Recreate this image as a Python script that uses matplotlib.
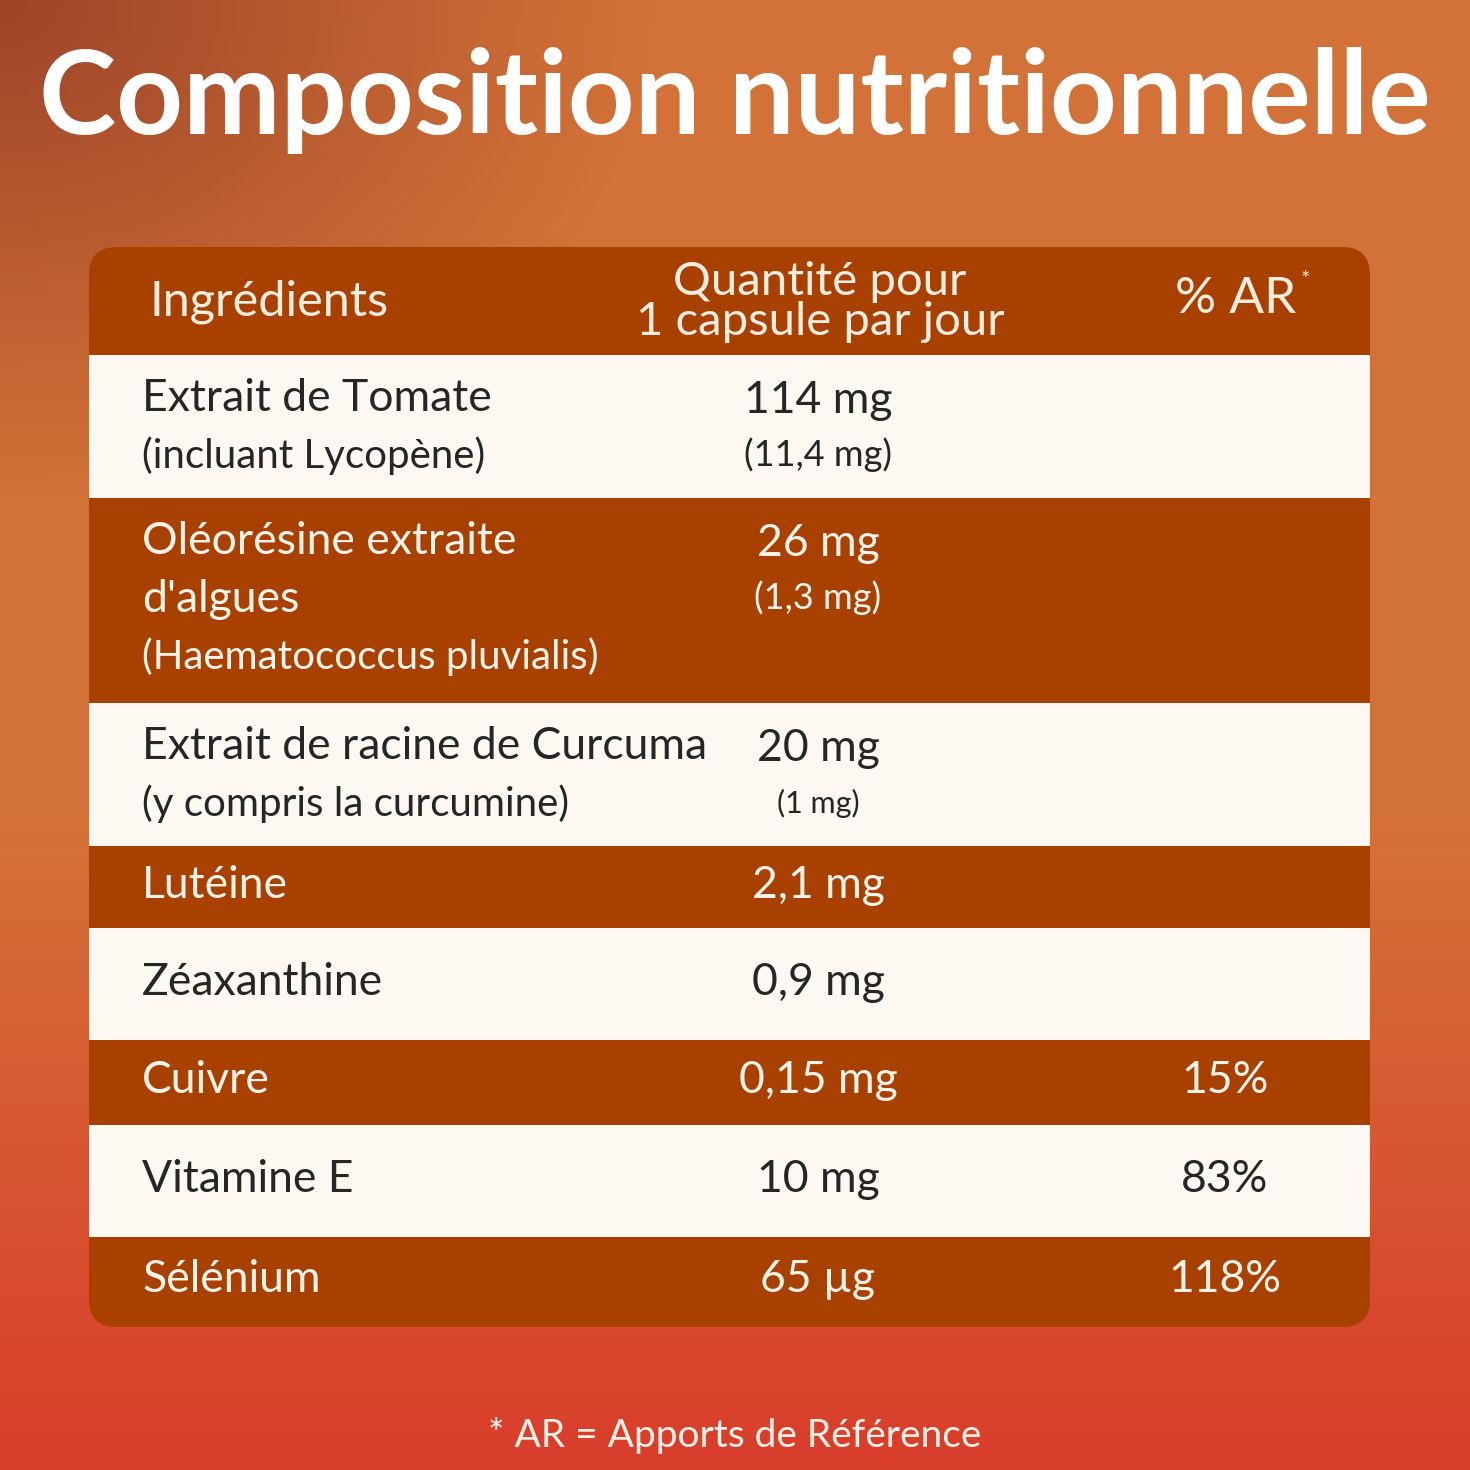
import numpy as np
import matplotlib
matplotlib.use("Agg")
import matplotlib.pyplot as plt
from matplotlib.patches import FancyBboxPatch, Rectangle

title = "Composition nutritionnelle"
headers = ["Ingrédients", "Quantité pour\n1 capsule par jour", "% AR"]
ingredients = ["Extrait de Tomate\n(incluant Lycopène)",
               "Oléorésine extraite\nd'algues\n(Haematococcus pluvialis)",
               "Extrait de racine de Curcuma\n(y compris la curcumine)",
               "Lutéine", "Zéaxanthine", "Cuivre", "Vitamine E", "Sélénium"]
quantities = ["114 mg", "26 mg", "20 mg", "2,1 mg", "0,9 mg", "0,15 mg", "10 mg", "65 µg"]
sub_quantities = ["(11,4 mg)", "(1,3 mg)", "(1 mg)", "", "", "", "", ""]
ar_values = ["", "", "", "", "", "15%", "83%", "118%"]
footnote = "* AR = Apports de Référence"

row_edges = [355, 498, 703, 846, 928, 1040, 1125, 1237, 1327]

W = H = 1470
fig = plt.figure(figsize=(14.7, 14.7), dpi=100)
ax = fig.add_axes([0, 0, 1, 1])
ax.set_xlim(0, W); ax.set_ylim(H, 0); ax.axis("off")
plt.rcParams['font.family'] = ['Lato', 'DejaVu Sans']

# background gradient
yy, xx = np.mgrid[0:1:200j, 0:1:200j]
top = np.array([0.83, 0.45, 0.22]); bot = np.array([0.85, 0.24, 0.17])
t = np.clip((yy - 0.55) / 0.45, 0, 1)[..., None]
img = top * (1 - t) + bot * t
d = np.clip(1 - np.sqrt(xx**2 + (yy * 1.3)**2) / 0.45, 0, 1)[..., None]
img = img * (1 - d) + np.array([0.62, 0.27, 0.16]) * d
ax.imshow(img, extent=[0, W, H, 0], aspect="auto", zorder=0)

ax.text(W / 2, 100, title, ha="center", va="center", fontsize=84,
        fontweight="bold", color="white", zorder=5)

dark = "#A84000"; light = "#FDF8F2"
x0, x1, y0, y1 = 89, 1370, 247, 1327
clip = FancyBboxPatch((x0, y0), x1 - x0, y1 - y0, boxstyle="round,pad=0,rounding_size=28",
                      facecolor=dark, edgecolor="none", zorder=1)
ax.add_patch(clip)
for i in range(len(ingredients)):
    col = light if i % 2 == 0 else dark
    r = Rectangle((x0, row_edges[i]), x1 - x0, row_edges[i + 1] - row_edges[i],
                  facecolor=col, edgecolor="none", zorder=2)
    ax.add_patch(r); r.set_clip_path(clip)

hc = "#FBEDE0"
ax.text(150, 302, headers[0], ha="left", va="center", fontsize=35, color=hc, zorder=5)
ax.text(820, 302, headers[1], ha="center", va="center", fontsize=34, color=hc,
        linespacing=0.95, zorder=5)
ax.text(1236, 299, headers[2], ha="center", va="center", fontsize=37, color=hc, zorder=5)
ax.text(1305, 280, "*", ha="center", va="center", fontsize=16, color=hc, zorder=5)

for i, (ing, q, sq, ar) in enumerate(zip(ingredients, quantities, sub_quantities, ar_values)):
    tc = "#262626" if i % 2 == 0 else "#FDF3EA"
    top_y = row_edges[i]
    h = row_edges[i + 1] - top_y
    single = "\n" not in ing
    if single:
        cy = top_y + h / 2 - 2
        ax.text(142, cy, ing, ha="left", va="center", fontsize=32, color=tc, zorder=5)
        ax.text(818, cy, q, ha="center", va="center", fontsize=32, color=tc, zorder=5)
        if ar:
            ax.text(1225, cy, ar, ha="center", va="center", fontsize=32, color=tc, zorder=5)
    else:
        lines = ing.split("\n")
        for k, ln in enumerate(lines):
            ax.text(142, top_y + 43 + k * 58, ln, ha="left", va="center",
                    fontsize=32 if k == 0 or (i == 1 and k == 1) else 29, color=tc, zorder=5)
        ax.text(818, top_y + 45, q, ha="center", va="center", fontsize=32, color=tc, zorder=5)
        ax.text(818, top_y + 100, sq, ha="center", va="center",
                fontsize=26 if i < 2 else 22, color=tc, zorder=5)

ax.text(W / 2, 1435, footnote, ha="center", va="center", fontsize=28,
        color="#FDF0E6", zorder=5)

fig.savefig("out.png", dpi=100)
